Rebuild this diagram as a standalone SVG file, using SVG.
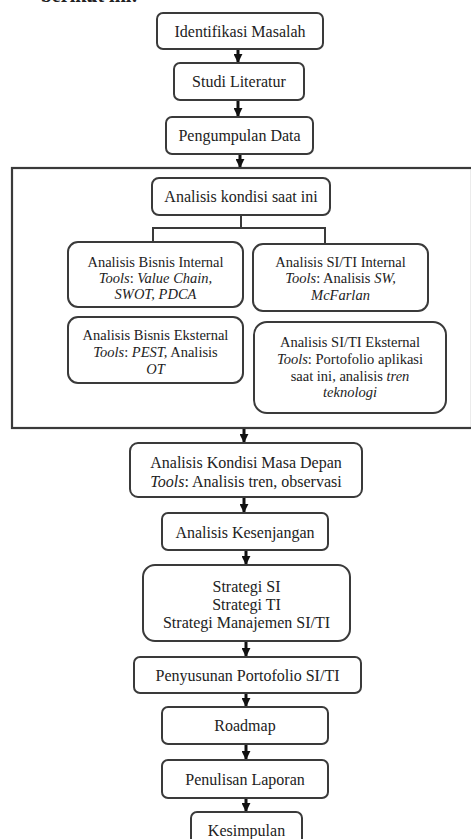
<svg xmlns="http://www.w3.org/2000/svg" width="471" height="839" viewBox="0 0 471 839">
<defs>
<style>
.box{fill:#fff;stroke:#3a3a3a;stroke-width:2}
.frame{fill:none;stroke:#3a3a3a;stroke-width:2.2}
.t{font-family:"Liberation Serif","Times New Roman",serif;font-size:16px;fill:#222;text-anchor:middle}
.s{font-family:"Liberation Serif","Times New Roman",serif;font-size:14.5px;fill:#222;text-anchor:middle}
.i{font-style:italic}
.arr{stroke:#111;stroke-width:3;fill:none}
.ln{stroke:#3a3a3a;stroke-width:2;fill:none}
</style>
<marker id="ah" viewBox="0 0 10 10" refX="9" refY="5" markerWidth="3" markerHeight="3" orient="auto" markerUnits="strokeWidth">
<path d="M0,0 L10,5 L0,10 z" fill="#111"/>
</marker>
</defs>
<rect width="471" height="839" fill="#fff"/>
<text x="138" y="2" font-family="Liberation Serif, serif" font-size="20" font-weight="bold" text-anchor="end" fill="#222">berikut ini:</text>

<g id="connectors">
<line class="arr" x1="238" y1="49" x2="238" y2="62" marker-end="url(#ah)"/>
<line class="arr" x1="238" y1="100" x2="238" y2="116" marker-end="url(#ah)"/>
<line class="arr" x1="240" y1="154" x2="240" y2="167" marker-end="url(#ah)"/>
<path class="ln" d="M241,215 V228 M153,241 V228 H325 V243"/>
<line class="arr" x1="244" y1="428" x2="244" y2="442" marker-end="url(#ah)"/>
<line class="arr" x1="244" y1="497" x2="244" y2="512" marker-end="url(#ah)"/>
<line class="arr" x1="246" y1="550" x2="246" y2="564" marker-end="url(#ah)"/>
<line class="arr" x1="246" y1="641" x2="246" y2="656" marker-end="url(#ah)"/>
<line class="arr" x1="246" y1="693" x2="246" y2="706" marker-end="url(#ah)"/>
<line class="arr" x1="246" y1="744" x2="246" y2="759" marker-end="url(#ah)"/>
<line class="arr" x1="246" y1="798" x2="246" y2="811" marker-end="url(#ah)"/>
</g>

<g id="identifikasi">
<rect class="box" x="157" y="13" width="166" height="36" rx="6"/>
<text class="t" x="240" y="36.5">Identifikasi Masalah</text>
</g>
<g id="studi">
<rect class="box" x="174" y="63" width="130" height="37" rx="6"/>
<text class="t" x="239" y="87">Studi Literatur</text>
</g>
<g id="pengumpulan">
<rect class="box" x="166" y="117" width="147" height="37" rx="6"/>
<text class="t" x="239.5" y="141">Pengumpulan Data</text>
</g>

<g id="frame-kondisi">
<rect class="frame" x="12" y="168" width="460" height="260"/>
</g>
<g id="kondisi">
<rect class="box" x="152" y="178" width="178" height="37" rx="7"/>
<text class="t" x="241" y="202">Analisis kondisi saat ini</text>
</g>
<g id="bisnis-internal">
<rect class="box" x="68" y="242" width="175" height="65" rx="10"/>
<text class="s" x="155.5" y="267">Analisis Bisnis Internal</text>
<text class="s" x="155.5" y="283"><tspan class="i">Tools</tspan>: <tspan class="i">Value Chain,</tspan></text>
<text class="s i" x="155.5" y="299">SWOT, PDCA</text>
</g>
<g id="siti-internal">
<rect class="box" x="253" y="244" width="175" height="67" rx="10"/>
<text class="s" x="340.5" y="267">Analisis SI/TI Internal</text>
<text class="s" x="340.5" y="283"><tspan class="i">Tools</tspan>: Analisis <tspan class="i">SW,</tspan></text>
<text class="s i" x="340.5" y="300">McFarlan</text>
</g>
<g id="bisnis-eksternal">
<rect class="box" x="68" y="317" width="175" height="66" rx="10"/>
<text class="s" x="155.5" y="340">Analisis Bisnis Eksternal</text>
<text class="s" x="155.5" y="357"><tspan class="i">Tools</tspan>: <tspan class="i">PEST,</tspan> Analisis</text>
<text class="s i" x="155.5" y="374">OT</text>
</g>
<g id="siti-eksternal">
<rect class="box" x="254" y="322" width="192" height="91" rx="13"/>
<text class="s" x="350" y="347">Analisis SI/TI Eksternal</text>
<text class="s" x="350" y="364"><tspan class="i">Tools</tspan>: Portofolio aplikasi</text>
<text class="s" x="350" y="381">saat ini, analisis <tspan class="i">tren</tspan></text>
<text class="s i" x="350" y="397">teknologi</text>
</g>

<g id="masa-depan">
<rect class="box" x="130" y="443" width="232" height="54" rx="8"/>
<text class="t" x="246" y="468">Analisis Kondisi Masa Depan</text>
<text class="t" x="246" y="487"><tspan class="i">Tools</tspan>: Analisis tren, observasi</text>
</g>
<g id="kesenjangan">
<rect class="box" x="162" y="513" width="166" height="37" rx="6"/>
<text class="t" x="245" y="537.5">Analisis Kesenjangan</text>
</g>
<g id="strategi">
<rect class="box" x="143" y="565" width="207" height="76" rx="12"/>
<text class="t" x="246.5" y="591.5">Strategi SI</text>
<text class="t" x="246.5" y="609.5">Strategi TI</text>
<text class="t" x="246.5" y="628">Strategi Manajemen SI/TI</text>
</g>
<g id="portofolio">
<rect class="box" x="134" y="657" width="227" height="36" rx="6"/>
<text class="t" x="247.5" y="680.5">Penyusunan Portofolio SI/TI</text>
</g>
<g id="roadmap">
<rect class="box" x="162" y="707" width="166" height="37" rx="6"/>
<text class="t" x="245" y="730.5">Roadmap</text>
</g>
<g id="penulisan">
<rect class="box" x="162" y="760" width="166" height="38" rx="6"/>
<text class="t" x="245" y="784.5">Penulisan Laporan</text>
</g>
<g id="kesimpulan">
<rect class="box" x="191" y="812" width="111" height="36" rx="6"/>
<text class="t" x="246.5" y="835.5">Kesimpulan</text>
</g>
</svg>
